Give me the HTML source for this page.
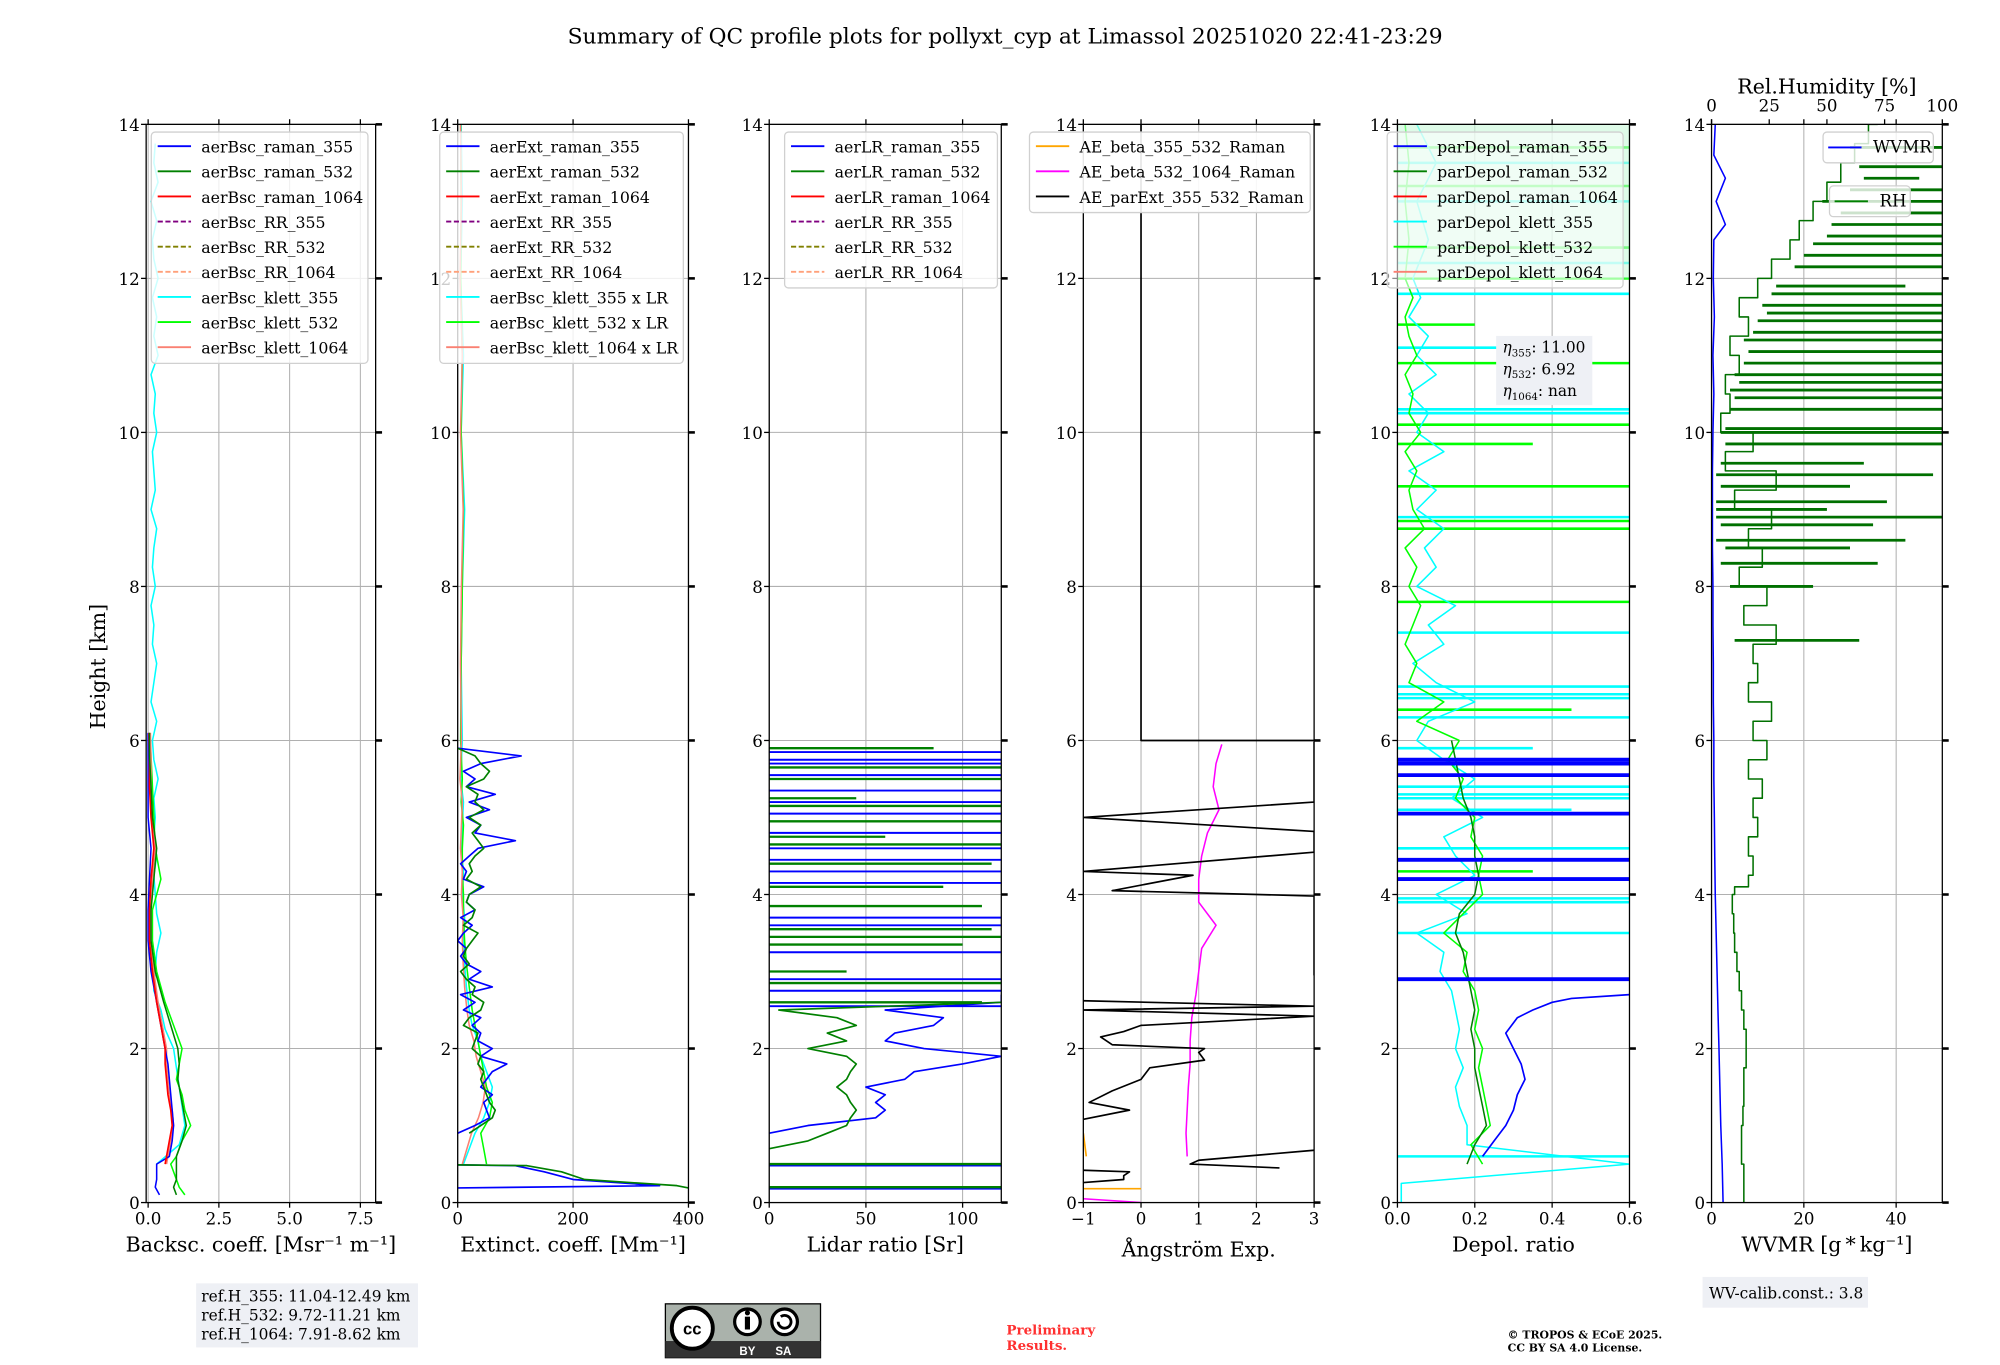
<!DOCTYPE html>
<html><head><meta charset="utf-8"><style>
html,body{margin:0;padding:0;background:#fff;}
svg text{font-family:"DejaVu Serif","Liberation Serif",serif;fill:#000;}
</style></head><body>
<svg id="fig" width="2000" height="1360" viewBox="0 0 2000 1360" xmlns="http://www.w3.org/2000/svg">
<rect width="2000" height="1360" fill="#fff"/>
<g id="root" transform="scale(1.28205)">
<text x="784" y="34" font-size="17" text-anchor="middle">Summary of QC profile plots for pollyxt_cyp at Limassol 20251020 22:41-23:29</text>
<text transform="translate(82,520) rotate(-90)" font-size="16" text-anchor="middle">Height [km]</text>
<g id="plots"></g>
<g id="overlays"></g>
<rect x="153" y="1001" width="173" height="50" fill="#eef0f5"/>
<text x="157" y="1015" font-size="12">ref.H_355: 11.04-12.49 km</text>
<text x="157" y="1030" font-size="12">ref.H_532: 9.72-11.21 km</text>
<text x="157" y="1045" font-size="12">ref.H_1064: 7.91-8.62 km</text>
<rect x="1328" y="996" width="129" height="24" fill="#eef0f5"/>
<text x="1333" y="1013" font-size="12">WV-calib.const.: 3.8</text>
<g>
<rect x="519" y="1017" width="121" height="42" fill="#aab2ab" stroke="#000" stroke-width="1"/>
<rect x="519" y="1046" width="121" height="13" fill="#333"/>
<circle cx="540" cy="1036" r="16" fill="#fff" stroke="#000" stroke-width="3"/>
<text x="540" y="1041" font-size="13" font-weight="bold" text-anchor="middle" style="font-family:'Liberation Sans',sans-serif">cc</text>
<circle cx="583" cy="1031" r="10" fill="#fff" stroke="#000" stroke-width="2.5"/>
<rect x="581" y="1027" width="4" height="10" fill="#000"/><circle cx="583" cy="1024" r="2" fill="#000"/>
<circle cx="612" cy="1031" r="10" fill="#fff" stroke="#000" stroke-width="2.5"/>
<path d="M607 1031 a5 5 0 1 0 2 -4" fill="none" stroke="#000" stroke-width="2.2"/>
<text x="583" y="1057" font-size="9" font-weight="bold" text-anchor="middle" style="fill:#fff;font-family:'Liberation Sans',sans-serif">BY</text>
<text x="611" y="1057" font-size="9" font-weight="bold" text-anchor="middle" style="fill:#fff;font-family:'Liberation Sans',sans-serif">SA</text>
</g>
<text x="785" y="1041" font-size="10.5" font-weight="bold" style="fill:#ff3030">Preliminary</text>
<text x="785" y="1053" font-size="10.5" font-weight="bold" style="fill:#ff3030">Results.</text>
<text x="1176" y="1044" font-size="8.5" font-weight="bold">© TROPOS &amp; ECoE 2025.</text>
<text x="1176" y="1054" font-size="8.5" font-weight="bold">CC BY SA 4.0 License.</text>
</g>
</svg>
<script>
const bscH = [0.1,0.2,0.3,0.5,0.6,0.8,1.0,1.2,1.4,1.6,1.8,2.0,2.3,2.6,3.0,3.4,3.8,4.2,4.6,5.0,5.4,5.8,6.1];
const bsc355 = [0.4,0.25,0.3,0.3,0.75,0.85,0.9,0.85,0.8,0.75,0.7,0.6,0.45,0.3,0.1,0.0,0.0,0.05,0.1,0.0,0.0,0.0,0.0];
const bsc532 = [1.0,0.9,1.0,1.0,1.0,1.2,1.35,1.25,1.15,1.05,1.1,1.05,0.8,0.55,0.25,0.1,0.1,0.2,0.3,0.15,0.1,0.05,0.05];
const bsc1064 = [null,null,null,0.6,0.65,0.75,0.85,0.8,0.7,0.65,0.6,0.6,0.45,0.3,0.15,0.05,0.05,0.1,0.2,0.1,0.05,0.05,0.03];
const bscK532 = [1.3,1.1,1.0,0.8,1.0,1.2,1.5,1.3,1.2,1.0,1.1,1.2,0.9,0.6,0.3,0.15,0.15,0.45,0.25,0.2,0.15,0.1,0.05];
const bscK355 = [0.3,1.1,1.3,1.2,1.1,1.0,0.9,0.6,0.45,0.2,0.25,0.3,0.45,0.3,0.25,0.2,0.3,0.2,0.25,0.2,0.35,0.2,0.15,0.3,0.1,0.2,0.3,0.15,0.2,0.1,0.25,0.15,0.2,0.3,0.1,0.25,0.2,0.15,0.3,0.2,0.25,0.1,0.35,0.2,0.3,0.15,0.35,0.2,0.15,0.3,0.1,0.35,0.2,0.25];
const extH = [0.19,0.22,0.3,0.4,0.48,0.49,null,0.9,1.0,1.1,1.2,1.3,1.4,1.5,1.6,1.7,1.8,1.9,2.0,2.1,2.2,2.3,2.4,2.5,2.6,2.7,2.8,2.9,3.0,3.1,3.2,3.3,3.4,3.5,3.6,3.7,3.8,3.9,4.0,4.1,4.2,4.3,4.4,4.5,4.6,4.7,4.8,4.9,5.0,5.1,5.2,5.3,5.4,5.5,5.6,5.7,5.8,5.9];
const ext355 = [0,350,200,150,100,0,null,0,30,55,50,45,60,40,50,60,85,40,60,35,40,25,40,10,30,5,60,20,40,15,5,15,0,10,25,5,30,15,20,45,10,15,5,20,35,100,30,40,15,55,20,65,15,30,10,40,110,0];
const ext532 = [400,380,220,180,120,0,null,20,40,60,65,55,50,45,40,45,35,40,25,30,35,10,20,40,45,25,30,15,5,20,10,15,25,35,10,25,30,15,20,40,15,25,20,30,45,35,25,40,20,45,30,35,15,45,55,40,30,0];
const extK355 = [10,20,30,45,55,60,50,40,35,25,20,15,12,10,12,8,10,6,8,10,5,8,6,8,12,6,10,5,8,6];
const extK532 = [50,45,40,55,60,50,45,40,35,30,25,20,15,12,10,10,8,8,10,6,8,5,6,8,10,6,8,5,6,5];
const extKH = [0.5,0.7,0.9,1.1,1.3,1.5,1.7,1.9,2.1,2.3,2.5,2.8,3.1,3.4,3.7,4.0,4.3,4.6,4.9,5.2,5.5,6.0,7,8,9,10,11,12,13,14];
const lrH355 = [0.9,1.0,1.1,1.2,1.3,1.4,1.5,1.6,1.7,1.8,1.9,2.0,2.1,2.2,2.3,2.4,2.5,2.6,2.7];
const lr355 = [0,20,55,60,55,60,50,70,75,100,120,80,60,65,85,90,60,120,120];
const lrH532 = [0.7,0.8,0.9,1.0,1.1,1.2,1.3,1.4,1.5,1.6,1.7,1.8,1.9,2.0,2.1,2.2,2.3,2.4,2.5,2.6];
const lr532 = [0,20,30,40,42,45,42,40,35,40,42,45,40,20,40,30,45,35,5,120];
const lrSpk355 = [0.18,0.48,2.55,2.75,2.9,3.25,3.6,3.7,4.15,4.3,4.45,4.6,4.8,5.05,5.2,5.35,5.55,5.7,5.75,5.85];
const lrSpk532 = [0.2,0.5,2.6,2.85,3.0,3.35,3.45,3.55,3.85,4.1,4.4,4.65,4.75,4.95,5.15,5.25,5.5,5.65,5.9];
const lrSpkV532 = [120,120,110,120,40,100,120,115,110,90,115,120,60,120,120,45,120,120,85];
const aeMagH = [0.6,0.9,1.2,1.5,1.8,2.1,2.4,2.7,3.0,3.3,3.6,3.9,4.2,4.5,4.8,5.1,5.4,5.7,5.95];
const aeMag = [0.8,0.78,0.8,0.82,0.85,0.85,0.88,0.95,1.0,1.05,1.3,1.0,1.0,1.05,1.15,1.35,1.25,1.3,1.4];
const aeMagLowH = [0.05,0.0];
const aeMagLow = [-1,0];
const aeBlkH = [0.26,0.3,0.35,0.4,0.42,null,0.45,0.5,0.55,0.68,null,1.08,1.2,1.3,1.45,1.6,1.75,1.85,1.95,2.0,2.05,2.15,2.22,2.3,2.42,2.5,2.55,2.62,null,2.95,3.25,3.7,3.98,4.05,4.25,4.3,4.55,4.82,5.0,5.2,5.5,5.72,5.9,5.98];
const aeBlk = [-1,-0.3,-0.3,-0.2,-1,null,2.4,0.85,1.0,3,null,-1,-0.2,-0.9,-0.5,0.0,0.15,1.1,1.0,1.1,-0.5,-0.7,-0.3,0.0,3,-1,3,-1,null,3,3,3,3,-0.5,0.9,-1,3,3,-1,3,3,3,3,3];
const aeStepH = [6.0,6.0,14];
const aeStep = [3,0,0];
const aeOrH = [0.18,0.18,null,0.6,0.9];
const aeOr = [-1,0,null,-0.95,-1];
const dpH532 = [0.5,0.75,1.0,1.25,1.5,1.75,2.0,2.25,2.5,2.75,3.0,3.25,3.5,3.75,4.0,4.25,4.5,4.75,5.0,5.25,5.5,5.75,6.0];
const dp532 = [0.18,0.2,0.23,0.22,0.21,0.2,0.2,0.19,0.2,0.19,0.18,0.17,0.15,0.16,0.2,0.21,0.2,0.2,0.19,0.17,0.16,0.15,0.14];
const dpK532 = [0.22,0.19,0.24,0.23,0.22,0.21,0.22,0.2,0.21,0.2,0.17,0.18,0.12,0.17,0.22,0.21,0.22,0.19,0.2,0.15,0.17,0.13,0.16];
const dpH355 = [0.6,0.8,1.0,1.2,1.4,1.6,1.8,2.0,2.2,2.4,2.5,2.6,2.65,2.7];
const dp355 = [0.22,0.25,0.28,0.3,0.31,0.33,0.32,0.3,0.28,0.31,0.35,0.4,0.45,0.6];
const dpSpk355 = [2.9,4.2,4.45,5.05,5.55,5.7,5.75];
const dpKH = [0.0,0.25,0.5,0.75,1.0,1.25,1.5,1.75,2.0,2.25,2.5,2.75,3.0,3.25,3.5,3.75,4.0,4.25,4.5,4.75,5.0,5.25,5.5,5.75,6.0,6.25,6.5,6.75,7.0,7.25,7.5,7.75,8.0,8.25,8.5,8.75,9.0,9.25,9.5,9.75,10.0,10.25,10.5,10.75,11.0,11.25,11.5,11.75,12.0,12.5,13.0,13.5,14.0];
const dpK355 = [0.01,0.01,0.6,0.18,0.18,0.16,0.15,0.17,0.15,0.16,0.15,0.14,0.11,0.12,0.05,0.18,0.1,0.2,0.15,0.12,0.22,0.14,0.2,0.12,0.05,0.08,0.2,0.1,0.04,0.12,0.08,0.15,0.05,0.1,0.07,0.12,0.05,0.1,0.03,0.12,0.05,0.08,0.03,0.1,0.05,0.08,0.03,0.06,0.04,0.08,0.05,0.1,0.05];
const dpK532b = [null,null,null,null,null,null,null,null,null,null,null,null,null,null,null,null,null,null,null,null,null,null,null,null,0.16,0.05,0.12,0.03,0.05,0.02,0.04,0.06,0.03,0.05,0.02,0.07,0.04,0.03,0.05,0.02,0.06,0.03,0.04,0.02,0.05,0.03,0.02,0.04,0.02,0.03,0.02,0.03,0.02];
const dpSpkC = [0.6,3.5,3.9,3.95,4.6,5.1,5.25,5.3,5.4,5.9,6.3,6.55,6.6,6.7,7.4,8.9,10.25,10.3,11.1,11.8,12.2,13.0,13.5];
const dpSpkCV = [0.6,0.6,0.6,0.6,0.6,0.45,0.6,0.6,0.6,0.35,0.6,0.6,0.6,0.6,0.6,0.6,0.6,0.6,0.5,0.6,0.6,0.6,0.6];
const dpSpkL = [4.3,6.4,7.8,8.75,8.85,9.3,9.85,10.1,10.9,11.4,12.0,12.4,13.2,13.7];
const dpSpkLV = [0.35,0.45,0.6,0.6,0.6,0.6,0.35,0.6,0.6,0.2,0.6,0.6,0.6,0.6];
const wvBlueH = [0,0.5,1,1.5,2,2.5,3,3.5,4,4.5,5,5.5,6,6.5,7,7.5,8,8.5,9,9.5,10,10.5,11,11.5,12,12.5,12.7,13,13.3,13.6,14];
const wvBlue = [2.5,2.3,2.0,1.8,1.6,1.4,1.2,1.0,0.8,0.7,0.6,0.5,0.5,0.4,0.4,0.3,0.3,0.2,0.2,0.2,0.3,0.5,0.3,0.6,0.4,0.5,3,1,3,0.5,0.8];
const wvH = [0,0.25,0.5,0.75,1,1.25,1.5,1.75,2,2.25,2.5,2.75,3,3.25,3.5,3.75,4,4.1,4.25,4.5,4.75,5,5.25,5.5,5.75,6,6.25,6.5,6.75,7,7.25,7.5,7.75,8,8.25,8.5,8.75,9,9.25,9.5,9.75,10,10.25,10.5,10.75,11,11.25,11.5,11.75,12,12.25,12.5,12.75,13,13.25,13.5,13.75,14];
const wvGreen = [7,7,6.5,6.5,6.8,7,7,7.5,7.5,7,6.5,6,5.5,5,4.8,4.5,5,8,9,8,10,9,11,8,12,9,13,8,10,9,14,7,12,6,11,8,13,5,14,3,9,2,4,3,6,4,8,6,10,13,17,19,22,25,28,31,34,36];
const wvSpkH = [7.3,8.0,8.3,8.5,8.6,8.8,8.9,9.0,9.1,9.3,9.45,9.6,9.85,10.0,10.05,10.3,10.45,10.55,10.65,10.75,10.9,11.05,11.2,11.3,11.45,11.55,11.65,11.8,11.9,12.15,12.3,12.45,12.55,12.7,12.85,13.0,13.15,13.3,13.45,13.7];
const wvSpkV = [32,22,36,30,42,35,50,25,38,30,48,33,50,50,50,50,50,50,50,50,50,50,50,50,50,50,50,50,42,50,50,50,50,50,50,50,50,45,50,50];
const wvSpkB = [5,4,2,3,1,2,1,1,1,2,1,2,3,2,3,4,5,4,6,5,7,8,7,9,10,12,11,13,14,18,20,22,25,26,28,24,30,33,32,30];

const Y0 = 938, Y14 = 97;
function yS(h){ return Y0 - h*(Y0-Y14)/14; }
const panels = [
 {L:114,R:293,a:-0.07,b:8.04,ticks:[0,2.5,5,7.5],labs:["0.0","2.5","5.0","7.5"],xl:"Backsc. coeff. [Msr\u207B\u00B9 m\u207B\u00B9]",name:"backscatter"},
 {L:357,R:537,a:0,b:400,ticks:[0,200,400],labs:["0","200","400"],xl:"Extinct. coeff. [Mm\u207B\u00B9]",name:"extinction"},
 {L:600,R:781,a:0,b:120,ticks:[0,50,100],labs:["0","50","100"],xl:"Lidar ratio [Sr]",name:"lidar-ratio"},
 {L:845,R:1025,a:-1,b:3,ticks:[-1,0,1,2,3],labs:["\u22121","0","1","2","3"],xl:"\u00C5ngstr\u00F6m Exp.",name:"angstrom"},
 {L:1090,R:1271,a:0,b:0.6,ticks:[0,0.2,0.4,0.6],labs:["0.0","0.2","0.4","0.6"],xl:"Depol. ratio",name:"depol"},
 {L:1335,R:1515,a:0,b:50,ticks:[0,20,40],labs:["0","20","40"],xl:"WVMR [g\u2009*\u2009kg\u207B\u00B9]",name:"wvmr"}
];
function xS(p,v){ return p.L + (v-p.a)/(p.b-p.a)*(p.R-p.L); }
const NS="http://www.w3.org/2000/svg";
const plots=document.getElementById('plots');
const overlays=document.getElementById('overlays');
function mk(tag,attrs,parent){ const e=document.createElementNS(NS,tag); for(const k in attrs) e.setAttribute(k,attrs[k]); (parent||plots).appendChild(e); return e; }
function line(p,H,V,color,w,name,dash,parent){
  let d="", pen=false;
  for(let i=0;i<H.length;i++){
    if(H[i]===null||V[i]===null){pen=false;continue;}
    d+=(pen?"L":"M")+xS(p,V[i]).toFixed(1)+" "+yS(H[i]).toFixed(1)+" "; pen=true;
  }
  const e=mk('path',{d:d,fill:'none',stroke:color,'stroke-width':w||1.2,'stroke-linejoin':'round'},parent||p.g);
  if(dash) e.setAttribute('stroke-dasharray',dash);
  
  
  return e;
}
function spikes(p,H,V,base,color,w,name){
  const g=mk('g',{},p.g);
  
  
  for(let i=0;i<H.length;i++){
    const v = Array.isArray(V)?V[i]:V; const b = Array.isArray(base)?base[i]:base;
    const e=mk('line',{x1:xS(p,b),x2:xS(p,v),y1:yS(H[i]),y2:yS(H[i]),stroke:color,'stroke-width':w},g);
    
    
  }
}
panels.forEach((p,pi)=>{
  const ax=mk('g',{});
  
  
  p.ticks.forEach(t=>{ mk('line',{x1:xS(p,t),x2:xS(p,t),y1:Y14,y2:Y0,stroke:'#b0b0b0','stroke-width':0.8},ax); });
  for(let h=0;h<=14;h+=2){ mk('line',{x1:p.L,x2:p.R,y1:yS(h),y2:yS(h),stroke:'#b0b0b0','stroke-width':0.8},ax); }
  const clipId='clip'+pi;
  const cp=mk('clipPath',{id:clipId},ax); mk('rect',{x:p.L,y:Y14,width:p.R-p.L,height:Y0-Y14},cp);
  p.g=mk('g',{'clip-path':'url(#'+clipId+')'},ax);
  p.ax=ax;
});
const [P1,P2,P3,P4,P5,P6]=panels;
function grid(start,step,n){ const a=[]; for(let i=0;i<n;i++) a.push(+(start+i*step).toFixed(3)); return a; }
const k355H = grid(0.5,0.25,bscK355.length);
line(P1,k355H,bscK355,'#00ffff',1.2,'aerbsc-klett-355');
line(P1,bscH,bscK532,'#00ff00',1.2,'aerbsc-klett-532');
line(P1,bscH,bsc1064.map(v=>v===null?null:v+0.05),'#fa8072',1.2,'aerbsc-klett-1064');
line(P1,bscH,bsc355,'#0000ff',1.2,'aerbsc-raman-355');
line(P1,bscH,bsc1064,'#ff0000',1.3,'aerbsc-raman-1064');
line(P1,bscH,bsc532,'#008000',1.2,'aerbsc-raman-532');
line(P2,extKH,extK355,'#00ffff',1.2,'aerbsc-klett-355-x-lr');
line(P2,extKH,extK532,'#00ff00',1.2,'aerbsc-klett-532-x-lr');
line(P2,extKH,extK355.map(v=>v*0.8),'#fa8072',1.2,'aerbsc-klett-1064-x-lr');
line(P2,extH,ext355,'#0000ff',1.3,'aerext-raman-355');
line(P2,extH,ext532,'#008000',1.3,'aerext-raman-532');
spikes(P3,lrSpk355,120,0,'#0000ff',1.5,'aerlr-raman-355-spikes');
spikes(P3,lrSpk532,lrSpkV532,0,'#008000',1.8,'aerlr-raman-532-spikes');
line(P3,lrH355,lr355,'#0000ff',1.3,'aerlr-raman-355');
line(P3,lrH532,lr532,'#008000',1.3,'aerlr-raman-532');
line(P4,aeMagH,aeMag,'#ff00ff',1.2,'ae-beta-532-1064');
line(P4,aeMagLowH,aeMagLow,'#ff00ff',1.2,'ae-beta-532-1064-low');
line(P4,aeBlkH,aeBlk,'#000000',1.3,'ae-parext-355-532');
line(P4,aeStepH,aeStep,'#000000',1.3,'ae-parext-355-532-upper');
line(P4,aeOrH,aeOr,'#ffa500',1.3,'ae-beta-355-532');
spikes(P5,dpSpkC,dpSpkCV,0,'#00ffff',2,'pardepol-klett-355-spikes');
spikes(P5,dpSpkL,dpSpkLV,0,'#00ff00',2,'pardepol-klett-532-spikes');
line(P5,dpKH,dpK355,'#00ffff',1.2,'pardepol-klett-355');
line(P5,dpKH,dpK532b,'#00ff00',1.2,'pardepol-klett-532-upper');
line(P5,dpH532,dpK532,'#00ff00',1.2,'pardepol-klett-532');
line(P5,dpH532,dp532,'#008000',1.2,'pardepol-raman-532');
line(P5,dpH355,dp355,'#0000ff',1.3,'pardepol-raman-355');
spikes(P5,dpSpk355,0.6,0,'#0000ff',3,'pardepol-raman-355-spikes');
mk('rect',{x:1090,y:yS(14),width:181,height:yS(12)-yS(14),fill:'#c8f8d8',opacity:0.6},P5.g);
line(P6,wvBlueH,wvBlue,'#0000ff',1.2,'rh-profile');
(function(){ const H=[],V=[]; for(let i=0;i<wvH.length;i++){ H.push(wvH[i]); V.push(wvGreen[i]); if(i<wvH.length-1){H.push(wvH[i+1]);V.push(wvGreen[i]);} } line(P6,H,V,'#007000',1.2,'wvmr-profile'); })();
spikes(P6,wvSpkH,wvSpkV,wvSpkB,'#007000',2.2,'wvmr-spikes');
panels.forEach((p,pi)=>{
  const ax=p.ax;
  mk('rect',{x:p.L,y:Y14,width:p.R-p.L,height:Y0-Y14,fill:'none',stroke:'#000','stroke-width':1},ax);
  p.ticks.forEach((t,i)=>{
    const x=xS(p,t);
    mk('line',{x1:x,x2:x,y1:Y0,y2:Y0+4,stroke:'#000','stroke-width':1},ax);
    mk('line',{x1:x,x2:x,y1:Y14,y2:Y14-4,stroke:'#000','stroke-width':1},ax);
    const tl=mk('text',{x:x,y:Y0+17,'font-size':13,'text-anchor':'middle'},ax); tl.textContent=p.labs[i];
    
    
  });
  for(let h=0;h<=14;h+=2){
    const y=yS(h);
    mk('line',{x1:p.L-4,x2:p.L,y1:y,y2:y,stroke:'#000','stroke-width':1},ax);
    mk('line',{x1:p.R,x2:p.R+5,y1:y,y2:y,stroke:'#000','stroke-width':2},ax);
    const tl=mk('text',{x:p.L-5,y:y+5,'font-size':13,'text-anchor':'end'},ax); tl.textContent=String(h);
    
    
  }
  const xl=mk('text',{x:(p.L+p.R)/2,y:pi==3?980:976,'font-size':16,'text-anchor':'middle'},ax); xl.textContent=p.xl;
  
  
});
[0,25,50,75,100].forEach(v=>{ const x=P6.L+v/100*(P6.R-P6.L);
  const t=mk('text',{x:x,y:87,'font-size':13,'text-anchor':'middle'},P6.ax); t.textContent=String(v);
  
  
  mk('line',{x1:x,x2:x,y1:Y14,y2:Y14-4,stroke:'#000','stroke-width':1},P6.ax);
});
{ const t=mk('text',{x:1425,y:73,'font-size':16,'text-anchor':'middle'},P6.ax); t.textContent='Rel.Humidity [%]';
  
   }
function legend(x,y,w,entries,name,alpha){
  const g=mk('g',{},overlays);
  
  
  const h=entries.length*19.6+4;
  mk('rect',{x:x,y:y,width:w,height:h,rx:3,fill:'#fff','fill-opacity':alpha||0.8,stroke:'#d0d0d0','stroke-width':1},g);
  entries.forEach((e,i)=>{
    const yy=y+11+i*19.6;
    const l=mk('line',{x1:x+5,x2:x+31,y1:yy,y2:yy,stroke:e[1],'stroke-width':1.5},g);
    if(e[2]) l.setAttribute('stroke-dasharray','4,2');
    const t=mk('text',{x:x+39,y:yy+5,'font-size':12.3},g); t.textContent=e[0];
    
    
  });
}
const C=['#0000ff','#008000','#ff0000','#800080','#808000','#ffa07a','#00ffff','#00ff00','#fa8072'];
legend(118,103,169,[['aerBsc_raman_355',C[0]],['aerBsc_raman_532',C[1]],['aerBsc_raman_1064',C[2]],['aerBsc_RR_355',C[3],1],['aerBsc_RR_532',C[4],1],['aerBsc_RR_1064',C[5],1],['aerBsc_klett_355',C[6]],['aerBsc_klett_532',C[7]],['aerBsc_klett_1064',C[8]]],'backscatter-legend');
legend(343,103,190,[['aerExt_raman_355',C[0]],['aerExt_raman_532',C[1]],['aerExt_raman_1064',C[2]],['aerExt_RR_355',C[3],1],['aerExt_RR_532',C[4],1],['aerExt_RR_1064',C[5],1],['aerBsc_klett_355 x LR',C[6]],['aerBsc_klett_532 x LR',C[7]],['aerBsc_klett_1064 x LR',C[8]]],'extinction-legend');
legend(612,103,166,[['aerLR_raman_355',C[0]],['aerLR_raman_532',C[1]],['aerLR_raman_1064',C[2]],['aerLR_RR_355',C[3],1],['aerLR_RR_532',C[4],1],['aerLR_RR_1064',C[5],1]],'lidar-ratio-legend');
legend(803,103,219,[['AE_beta_355_532_Raman','#ffa500'],['AE_beta_532_1064_Raman','#ff00ff'],['AE_parExt_355_532_Raman','#000000']],'angstrom-legend',0.9);
legend(1082,103,184,[['parDepol_raman_355',C[0]],['parDepol_raman_532',C[1]],['parDepol_raman_1064',C[2]],['parDepol_klett_355',C[6]],['parDepol_klett_532',C[7]],['parDepol_klett_1064',C[8]]],'depol-legend',0.55);
{ const g=mk('g',{},overlays);  
  mk('rect',{x:1167,y:262,width:75,height:54,fill:'#eef0f5'},g);
  [['355','11.00'],['532','6.92'],['1064','nan']].forEach((e,i)=>{
    const t=mk('text',{x:1172,y:275+i*17,'font-size':12},g);
    t.innerHTML='<tspan font-style="italic">η</tspan><tspan font-size="8" dy="3">'+e[0]+'</tspan><tspan dy="-3">: '+e[1]+'</tspan>';
     
  });
}
{ const g=mk('g',{},overlays);  
  mk('rect',{x:1422,y:103,width:86,height:24,rx:3,fill:'#fff','fill-opacity':0.8,stroke:'#d0d0d0'},g);
  mk('line',{x1:1426,x2:1452,y1:115,y2:115,stroke:'#0000ff','stroke-width':1.5},g);
  const t=mk('text',{x:1461,y:119,'font-size':13},g); t.textContent='WVMR';
   
  const g2=mk('g',{},overlays);  
  mk('rect',{x:1427,y:145,width:63,height:24,rx:3,fill:'#fff','fill-opacity':0.8,stroke:'#d0d0d0'},g2);
  mk('line',{x1:1431,x2:1457,y1:157,y2:157,stroke:'#008000','stroke-width':1.5},g2);
  const t2=mk('text',{x:1466,y:161,'font-size':13},g2); t2.textContent='RH';
   
}
</script>
</body></html>
